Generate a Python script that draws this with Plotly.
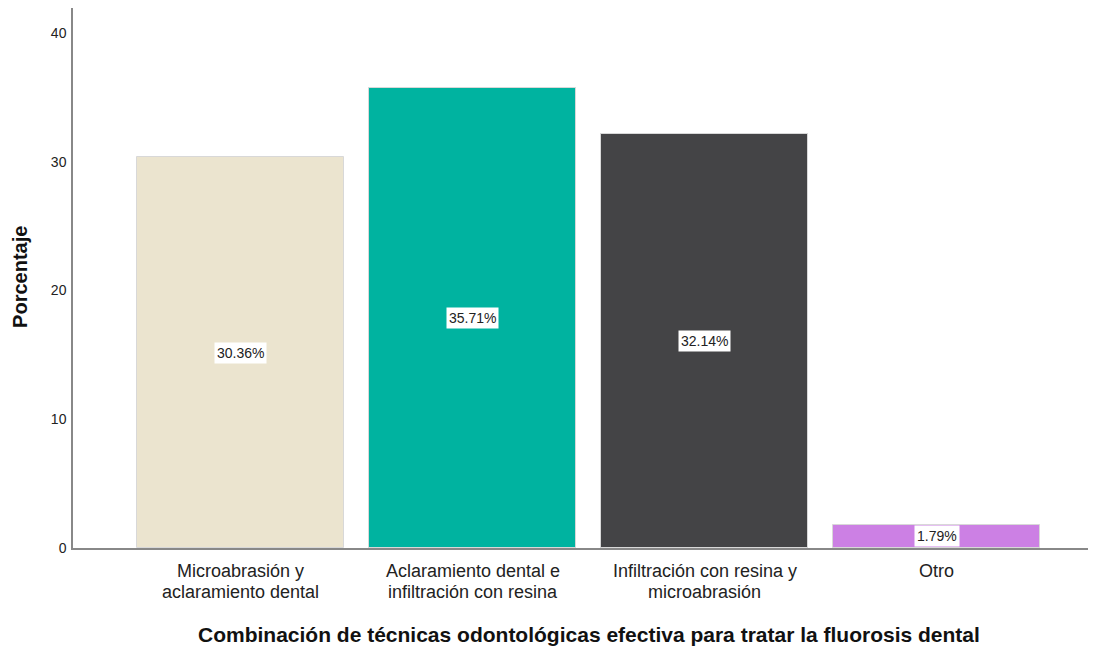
import plotly.graph_objects as go

cat_line1 = ["Microabrasión y", "Aclaramiento dental e", "Infiltración con resina y", "Otro"]
cat_line2 = ["aclaramiento dental", "infiltración con resina", "microabrasión", ""]
values = [30.36, 35.71, 32.14, 1.79]
colors = ["#EBE4CF", "#00B3A0", "#444446", "#CC80E4"]
y_ticks = [0, 10, 20, 30, 40]
x_title = "Combinación de técnicas odontológicas efectiva para tratar la fluorosis dental"
y_title = "Porcentaje"

FONT = "Liberation Sans, Arial, sans-serif"
x_pos = list(range(len(values)))

fig = go.Figure()
fig.add_trace(go.Bar(
    x=x_pos, y=values, width=0.893,
    marker=dict(color=colors, line=dict(color="#D8D8D8", width=1)),
    hoverinfo="skip",
))

# value labels in white boxes at mid-height of each bar
for xi, v in zip(x_pos, values):
    fig.add_annotation(
        x=xi, y=v / 2, text=f"{v:.2f}%", showarrow=False,
        bgcolor="white", borderpad=2,
        font=dict(family=FONT, size=14, color="#222"),
    )

# category labels (two lines each)
for xi, l1, l2 in zip(x_pos, cat_line1, cat_line2):
    fig.add_annotation(x=xi, xref="x", y=0, yref="paper", yanchor="middle",
                       yshift=-23, text=l1, showarrow=False,
                       font=dict(family=FONT, size=18, color="#222"))
    if l2:
        fig.add_annotation(x=xi, xref="x", y=0, yref="paper", yanchor="middle",
                           yshift=-43.5, text=l2, showarrow=False,
                           font=dict(family=FONT, size=18, color="#222"))

# axis titles
fig.add_annotation(x=0.505, xref="paper", y=0, yref="paper", yanchor="middle",
                   yshift=-86, text=f"<b>{x_title}</b>", showarrow=False,
                   font=dict(family=FONT, size=21, color="#111"))
fig.add_annotation(x=0, xref="paper", xanchor="center", xshift=-53,
                   y=0.502, yref="paper", yanchor="middle", textangle=-90,
                   text=f"<b>{y_title}</b>", showarrow=False,
                   font=dict(family=FONT, size=20, color="#111"))

fig.update_layout(
    width=1088, height=638,
    margin=dict(l=65, r=1, t=0, b=98),
    paper_bgcolor="white", plot_bgcolor="white",
    showlegend=False,
    font=dict(family=FONT, color="#222"),
    bargap=0,
)
fig.update_xaxes(
    range=[-0.722, 3.683],
    tickvals=x_pos, showticklabels=False,
    showline=True, linecolor="#888", linewidth=1.5,
    layer="below traces",
    showgrid=False, zeroline=False, ticks="",
)
fig.update_yaxes(
    range=[0, 41.94],
    tickvals=y_ticks,
    tickfont=dict(family=FONT, size=14, color="#222"),
    ticklabelstandoff=2,
    showline=True, linecolor="#888", linewidth=1.5,
    showgrid=False, zeroline=False, ticks="",
)

fig.write_html("out.html")
